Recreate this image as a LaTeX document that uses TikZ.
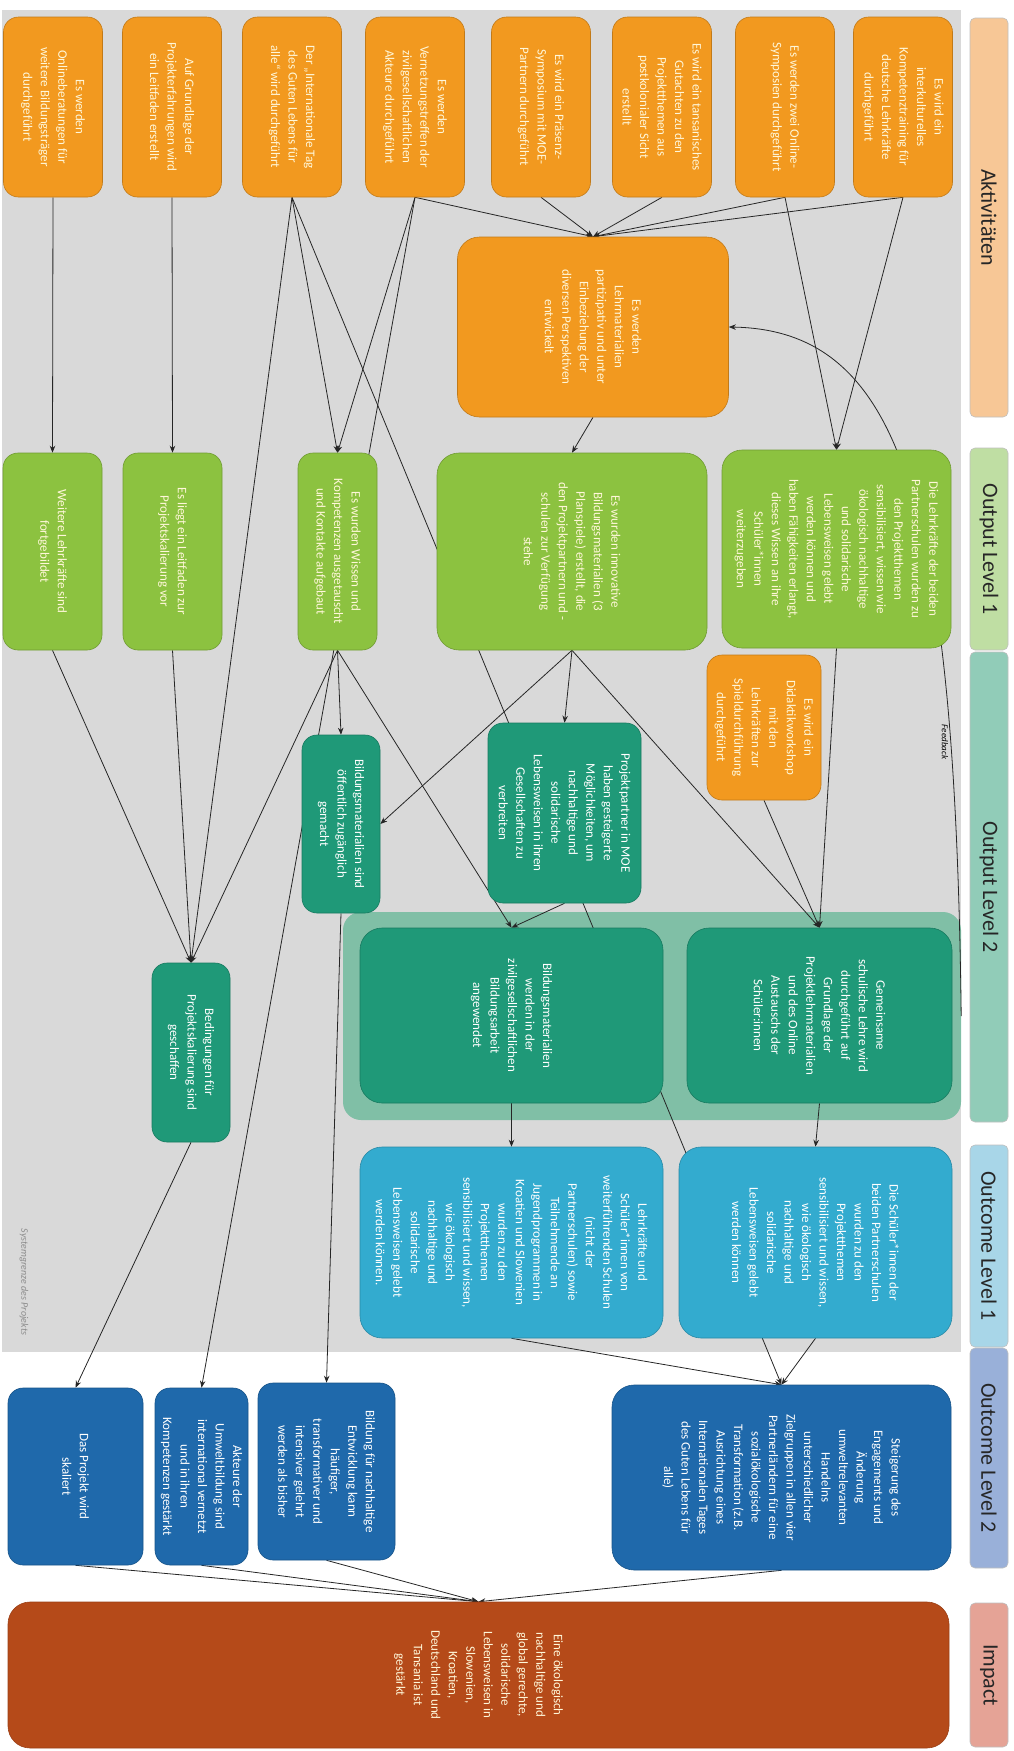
\documentclass[tikz,border=0pt]{standalone}
\usepackage{fontspec}
\setmainfont{Carlito}
\usetikzlibrary{arrows.meta}
\pgfdeclarelayer{bg}
\pgfdeclarelayer{edges}
\pgfsetlayers{bg,edges,main}
\definecolor{mgray}{rgb}{0.85, 0.85, 0.85}
\definecolor{morange}{rgb}{0.95, 0.6, 0.12}
\definecolor{mgreen}{rgb}{0.55, 0.76, 0.25}
\definecolor{mteal}{rgb}{0.12, 0.6, 0.47}
\definecolor{mgroup}{rgb}{0.5, 0.75, 0.65}
\definecolor{mcyan}{rgb}{0.2, 0.67, 0.81}
\definecolor{mblue}{rgb}{0.12, 0.41, 0.67}
\definecolor{mrust}{rgb}{0.71, 0.29, 0.1}
\definecolor{mcream}{rgb}{1, 0.97, 0.85}
\definecolor{hakt}{rgb}{0.97, 0.78, 0.59}
\definecolor{hout}{rgb}{0.75, 0.87, 0.64}
\definecolor{houtb}{rgb}{0.57, 0.8, 0.72}
\definecolor{hoc}{rgb}{0.66, 0.84, 0.91}
\definecolor{hocb}{rgb}{0.6, 0.69, 0.85}
\definecolor{himp}{rgb}{0.9, 0.64, 0.59}
\tikzset{box/.style = {rounded corners = 15pt, draw, line width = 0.6pt, align = center, inner sep = 2pt, font = \fontsize{13}{17.5}\selectfont}}
\tikzset{sz/.style 2 args = {minimum width = #1pt, minimum height = #2pt}}
\tikzset{akt/.style = {box, fill = morange, draw = morange!80!black, text = mcream, sz = {180}{99}}}
\tikzset{grn/.style = {box, fill = mgreen, draw = mgreen!80!black, text = mcream}}
\tikzset{tl/.style = {box, fill = mteal, draw = mteal!80!black, text = white}}
\tikzset{cy/.style = {box, fill = mcyan, draw = mcyan!80!black, text = white}}
\tikzset{bl/.style = {box, fill = mblue, draw = mblue!80!black, text = white}}
\tikzset{head/.style = {rounded corners = 5pt, draw = black!25, line width = 0.6pt, minimum height = 38pt, text = black!85, font = \fontsize{22}{24}\selectfont}}
\tikzset{arr/.style = {-{Stealth[length = 7pt, width = 5.5pt]}, line width = 0.8pt, black!85}}

\begin{document}
\begin{tikzpicture}[x = 1pt, y = 1pt, rotate = -90, transform shape]
    \useasboundingbox (0, 0) rectangle (1751, 1014);
    \begin{pgfonlayer}{bg}
      \fill [mgray] (10, 2) rectangle (1352, 961);
      \node [rounded corners = 18pt, fill = mgroup, sz = {208}{618}] (grp) at (1016, 652) {};
    \end{pgfonlayer}
    \node [head, fill = hakt, minimum width = 399pt] (h1) at (217.5, 989) {Aktivitäten};
    \node [head, fill = hout, minimum width = 202pt] (h2) at (549, 989) {Output Level 1};
    \node [head, fill = houtb, minimum width = 470pt] (h3) at (887, 989) {Output Level 2};
    \node [head, fill = hoc, minimum width = 202pt] (h4) at (1246, 989) {Outcome Level 1};
    \node [head, fill = hocb, minimum width = 220pt] (h5) at (1458, 989) {Outcome Level 2};
    \node [head, fill = himp, minimum width = 144pt] (h6) at (1675, 989) {Impact};
    \node [akt] (a1) at (107, 903) {Es wird ein\\interkulturelles\\Kompetenztraining für\\deutsche Lehrkräfte\\durchgeführt};
    \node [akt] (a2) at (107, 785) {Es werden zwei Online-\\Symposien durchgeführt};
    \node [akt] (a3) at (107, 662) {Es wird ein tansanisches\\Gutachten zu den\\Projektthemen aus\\postkolonialer Sicht\\erstellt};
    \node [akt] (a4) at (107, 541) {Es wird ein Präsenz-\\Symposium mit MOE-\\Partnern durchgeführt};
    \node [akt] (a5) at (107, 415) {Es werden\\Vernetzungstreffen der\\zivilgesellschaftlichen\\Akteure durchgeführt};
    \node [akt] (a6) at (107, 292) {Der „Internationale Tag\\des Guten Lebens für\\alle“ wird durchgeführt};
    \node [akt] (a7) at (107, 172) {Auf Grundlage der\\Projekterfahrungen wird\\ein Leitfaden erstellt};
    \node [akt] (a8) at (107, 53) {Es werden\\Onlineberatungen für\\weitere Bildungsträger\\durchgeführt};
    \node [akt, sz = {180}{271}, rounded corners = 22pt] (lm) at (327, 593) {Es werden\\Lehrmaterialien\\partizipativ und unter\\Einbeziehung der\\diversen Perspektiven\\entwickelt};
    \node [grn, sz = {198}{229}, rounded corners = 20pt] (lehr) at (549, 836.5) {Die Lehrkräfte der beiden\\Partnerschulen wurden zu\\den Projektthemen\\sensibilisiert, wissen wie\\ökologisch nachhaltige\\und solidarische\\Lebensweisen gelebt\\werden können und\\haben Fähigkeiten erlangt,\\dieses Wissen an ihre\\Schüler*innen\\weiterzugeben};
    \node [grn, sz = {197}{270}, rounded corners = 22pt] (innov) at (551.5, 572) {Es wurden innovative\\Bildungsmaterialien (3\\Planspiele) erstellt, die\\den Projektpartnern und -\\schulen zur Verfügung\\stehe};
    \node [grn, sz = {197}{79}] (wiss) at (551.5, 337.5) {Es wurden Wissen und\\Kompetenzen ausgetauscht\\und Kontakte aufgebaut};
    \node [grn, sz = {197}{99}] (leit) at (551.5, 172.5) {Es liegt ein Leitfaden zur\\Projektskalierung vor};
    \node [grn, sz = {197}{99}] (weit) at (551.5, 52.5) {Weitere Lehrkräfte sind\\fortgebildet};
    \node [akt, sz = {145}{114}] (work) at (727.5, 764) {Es wird ein\\Didaktikworkshop\\mit den\\Lehrkräften zur\\Spieldurchführung\\durchgeführt};
    \node [tl, sz = {180}{153}] (moe) at (813, 564.5) {Projektpartner in MOE\\haben gesteigerte\\Möglichkeiten, um\\nachhaltige und\\solidarische\\Lebensweisen in ihren\\Gesellschaften zu\\verbreiten};
    \node [tl, sz = {178}{78}] (oeff) at (824, 341) {Bildungsmaterialien sind\\öffentlich zugänglich\\gemacht};
    \node [tl, sz = {179}{78}] (bed) at (1052.5, 191) {Bedingungen für\\Projektskalierung sind\\geschaffen};
    \node [tl, sz = {175}{303}, rounded corners = 22pt] (ziv) at (1015.5, 511.5) {Bildungsmaterialien\\werden in der\\zivilgesellschaftlichen\\Bildungsarbeit\\angewendet};
    \node [tl, sz = {175}{265}, rounded corners = 22pt] (gem) at (1015.5, 819.5) {Gemeinsame\\schulische Lehre wird\\durchgeführt auf\\Grundlage der\\Projektlehrmaterialien\\und des Online\\Austauschs der\\Schüler:innen};
    \node [cy, sz = {191}{303}, rounded corners = 22pt] (ls) at (1242.5, 511.5) {Lehrkräfte und\\Schüler*innen von\\weiterführenden Schulen\\(nicht der\\Partnerschulen) sowie\\Teilnehmende an\\Jugendprogrammen in\\Kroatien und Slowenien\\wurden zu den\\Projektthemen\\sensibilisiert und wissen,\\wie ökologisch\\nachhaltige und\\solidarische\\Lebensweisen gelebt\\werden können.};
    \node [cy, sz = {191}{273}, rounded corners = 22pt] (sch) at (1242.5, 815.5) {Die Schüler*innen der\\beiden Partnerschulen\\wurden zu den\\Projektthemen\\sensibilisiert und wissen,\\wie ökologisch\\nachhaltige und\\solidarische\\Lebensweisen gelebt\\werden können};
    \node [bl, sz = {185}{339}, rounded corners = 22pt] (steig) at (1477.5, 781.5) {Steigerung des\\Engagements und\\Änderung\\umweltrelevanten\\Handelns\\unterschiedlicher\\Zielgruppen in allen vier\\Partnerländern für eine\\sozialökologische\\Transformation (z.B.\\Ausrichtung eines\\Internationalen Tages\\des Guten Lebens für\\alle)};
    \node [bl, sz = {177}{137}] (bne) at (1471.5, 326.5) {Bildung für nachhaltige\\Entwicklung kann\\häufiger,\\transformativer und\\intensiver gelehrt\\werden als bisher};
    \node [bl, sz = {177}{93}] (umw) at (1476.5, 201.5) {Akteure der\\Umweltbildung sind\\international vernetzt\\und in ihren\\Kompetenzen gestärkt};
    \node [bl, sz = {177}{135}] (proj) at (1476.5, 75.5) {Das Projekt wird\\skaliert};
    \node [box, fill = mrust, draw = mrust!85!black, text = mcream, sz = {146}{941}, rounded corners = 22pt] (wirk) at (1675, 478.5) {Eine ökologisch\\nachhaltige und\\global gerechte,\\solidarische\\Lebensweisen in\\Slowenien,\\Kroatien,\\Deutschland und\\Tansania ist\\gestärkt};
    \node [font = \fontsize{9}{11}\selectfont\itshape] (fb) at (742, 945) {Feedback};
    \node [font = \fontsize{10}{12}\selectfont\itshape, text = black!45] (sysg) at (1282, 24) {Systemgrenze des Projekts};
    \begin{pgfonlayer}{edges}
      \draw [arr] (a1.east) -- (lm.west);
      \draw [arr] (a2.east) -- (lm.west);
      \draw [arr] (a3.east) -- (lm.west);
      \draw [arr] (a4.east) -- (lm.west);
      \draw [arr] (a5.east) -- (lm.west);
      \draw [arr] (a1.east) -- (lehr.west);
      \draw [arr] (a2.east) -- (lehr.west);
      \draw [arr] (a5.east) -- (wiss.west);
      \draw [arr] (a6.east) -- (wiss.west);
      \draw [arr] (a6.east) -- (bed.west);
      \draw [arr] (a6.east) -- (steig.west);
      \draw [arr] (a5.east) -- (umw.west);
      \draw [arr] (a7.east) -- (leit.west);
      \draw [arr] (a8.east) -- (weit.west);
      \draw [arr] (lm.east) -- (innov.west);
      \draw [arr] (grp.north) .. controls (500, 955) and (330, 900) .. (lm.north);
      \draw [arr] (innov.east) -- (moe.west);
      \draw [arr] (innov.east) -- (oeff.north);
      \draw [arr] (innov.east) -- (gem.west);
      \draw [arr] (lehr.east) -- (gem.west);
      \draw [arr] (work.east) -- (gem.west);
      \draw [arr] (wiss.east) -- (ziv.west);
      \draw [arr] (moe.east) -- (ziv.west);
      \draw [arr] (wiss.east) -- (oeff.west);
      \draw [arr] (wiss.east) -- (bed.west);
      \draw [arr] (weit.east) -- (bed.west);
      \draw [arr] (leit.east) -- (bed.west);
      \draw [arr] (oeff.east) -- (bne.west);
      \draw [arr] (bed.east) -- (proj.west);
      \draw [arr] (gem.east) -- (sch.west);
      \draw [arr] (ziv.east) -- (ls.west);
      \draw [arr] (sch.east) -- (steig.west);
      \draw [arr] (ls.east) -- (steig.west);
      \draw [arr] (proj.east) -- (wirk.west);
      \draw [arr] (umw.east) -- (wirk.west);
      \draw [arr] (bne.east) -- (wirk.west);
      \draw [arr] (steig.east) -- (wirk.west);
    \end{pgfonlayer}
  \end{tikzpicture}
\end{document}
